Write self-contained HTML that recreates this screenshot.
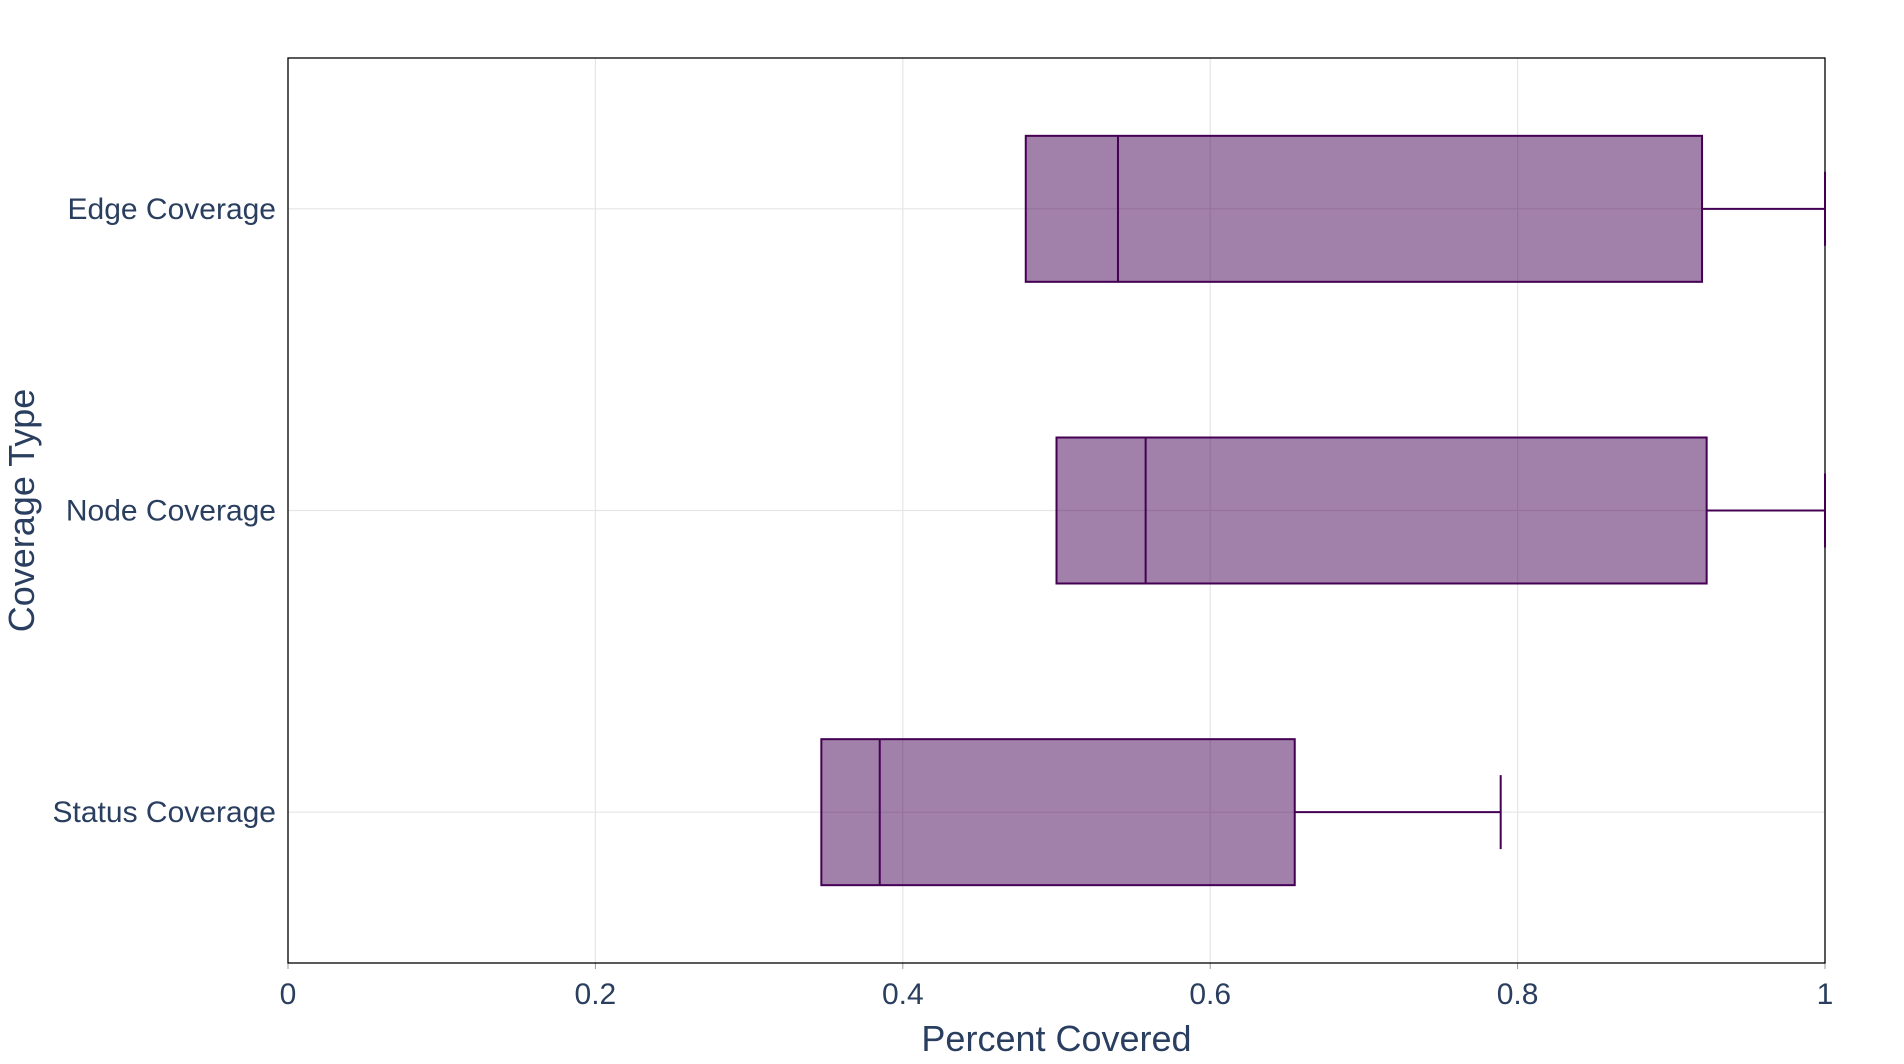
<!DOCTYPE html>
<html><head><meta charset="utf-8"><style>
body{margin:0;background:#fff;}
svg{display:block;font-family:"Liberation Sans",sans-serif;}
</style></head><body>
<svg id="chart" width="1904" height="1064"></svg>
<script>
const categories=["Edge Coverage","Node Coverage","Status Coverage"];
const q1=[0.48,0.50,0.347];
const medians=[0.54,0.558,0.385];
const q3=[0.92,0.923,0.655];
const lowerWhisker=[0.48,0.50,0.347];
const upperWhisker=[1.0,1.0,0.789];
const xTicks=[0,0.2,0.4,0.6,0.8,1];
const xTickLabels=["0","0.2","0.4","0.6","0.8","1"];

const L=288,R=1825,T=58,B=963;
const NS="http://www.w3.org/2000/svg";
const svg=document.getElementById('chart');
const xs=v=>L+v*(R-L);
const band=(B-T)/categories.length;
const ys=i=>T+band*(i+0.5);
function mk(tag,attrs,parent){const e=document.createElementNS(NS,tag);for(const k in attrs)e.setAttribute(k,attrs[k]);(parent||svg).appendChild(e);return e;}

const grid=mk('g',{});


xTicks.forEach((t,i)=>{
  const l=mk('line',{x1:xs(t),x2:xs(t),y1:T,y2:B,stroke:'#e5e5e5','stroke-width':1.2},grid);
  
  
  const tk=mk('line',{x1:xs(t),x2:xs(t),y1:B,y2:B+6,stroke:'#999','stroke-width':1});
  
  
  const tx=mk('text',{x:xs(t),y:B+41,'text-anchor':'middle','font-size':30,fill:'#2a3f5f'});
  tx.textContent=xTickLabels[i];
  
  
});
categories.forEach((c,i)=>{
  const l=mk('line',{x1:L,x2:R,y1:ys(i),y2:ys(i),stroke:'#e5e5e5','stroke-width':1.2},grid);
  
  
  const tx=mk('text',{x:L-12,y:ys(i)+10,'text-anchor':'end','font-size':30,fill:'#2a3f5f'});
  tx.textContent=c;
  
  
});
const frame=mk('rect',{x:L,y:T,width:R-L,height:B-T,fill:'none',stroke:'#000','stroke-width':1.3});



const halfH=73,capH=37,col='#440154';
categories.forEach((c,i)=>{
  const g=mk('g',{});
  
  
  const y=ys(i);
  const w1=mk('line',{x1:xs(q3[i]),x2:xs(upperWhisker[i]),y1:y,y2:y,stroke:col,'stroke-width':2},g);
  
  
  const cap=mk('line',{x1:xs(upperWhisker[i]),x2:xs(upperWhisker[i]),y1:y-capH,y2:y+capH,stroke:col,'stroke-width':2},g);
  
  
  const w0=mk('line',{x1:xs(lowerWhisker[i]),x2:xs(q1[i]),y1:y,y2:y,stroke:col,'stroke-width':2},g);
  
  
  const rect=mk('rect',{x:xs(q1[i]),y:y-halfH,width:xs(q3[i])-xs(q1[i]),height:2*halfH,fill:'rgba(68,1,84,0.5)',stroke:col,'stroke-width':2},g);
  
  
  const med=mk('line',{x1:xs(medians[i]),x2:xs(medians[i]),y1:y-halfH,y2:y+halfH,stroke:col,'stroke-width':2},g);
  
  
});

const xt=mk('text',{x:(L+R)/2,y:1051,'text-anchor':'middle','font-size':36,fill:'#2a3f5f'});
xt.textContent='Percent Covered';


const yt=mk('text',{x:0,y:0,'text-anchor':'middle','font-size':36,fill:'#2a3f5f',transform:'translate(34,'+((T+B)/2)+') rotate(-90)'});
yt.textContent='Coverage Type';


</script>
</body></html>
